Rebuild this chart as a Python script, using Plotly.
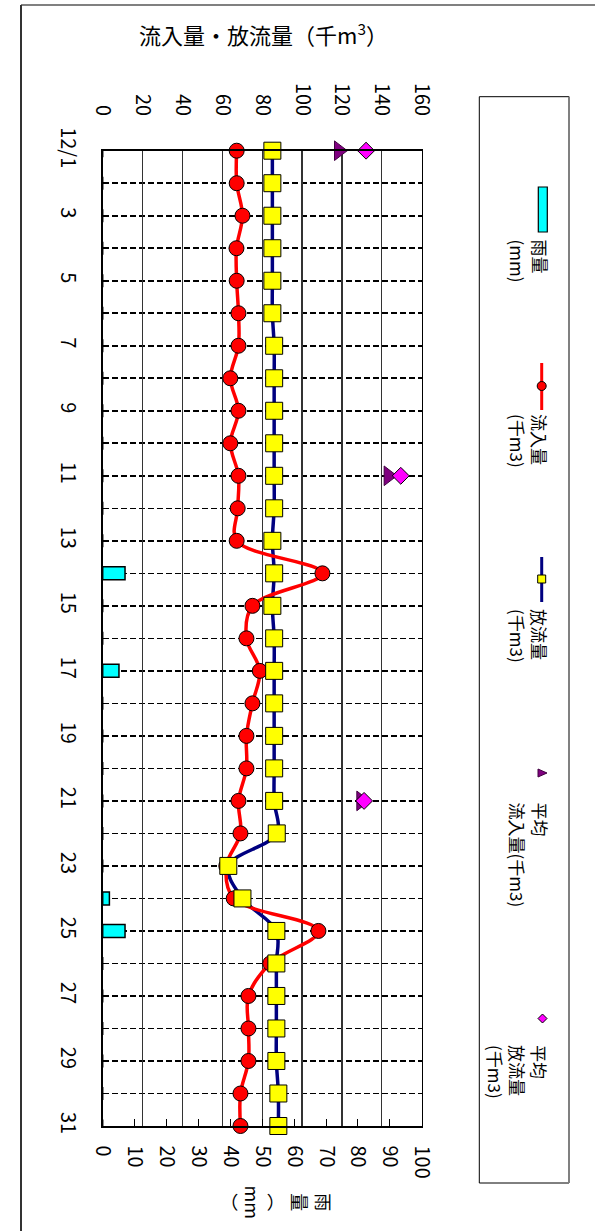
import plotly.graph_objects as go

# ---------------- data ----------------
days = list(range(1, 32))
day_labels = ["12/1", "", "3", "", "5", "", "7", "", "9", "", "11", "", "13", "", "15", "",
              "17", "", "19", "", "21", "", "23", "", "25", "", "27", "", "29", "", "31"]

rain_mm = [0, 0, 0, 0, 0, 0, 0, 0, 0, 0, 0, 0, 0, 7.0, 0, 0, 5.1, 0, 0, 0,
           0, 0, 0, 2.1, 7.0, 0, 0, 0, 0, 0, 0]

inflow = [67.2, 67.2, 70.1, 67.1, 67.2, 68.1, 68.1, 64.0, 68.1, 64.0,
          68.1, 67.7, 67.2, 110.2, 75.1, 72.1, 78.8, 75.1, 72.1, 72.1,
          68.1, 69.1, 62.0, 65.7, 108.2, 84.0, 73.1, 73.1, 73.1, 69.1, 69.1]

outflow = [85.1, 85.1, 85.1, 85.1, 85.1, 85.1, 86.0, 86.0, 86.0, 86.0,
           86.0, 86.0, 85.1, 86.0, 85.1, 86.0, 86.0, 86.0, 86.0, 86.0,
           86.0, 87.3, 63.0, 70.1, 87.1, 87.1, 87.1, 87.1, 87.1, 88.1, 88.1]

avg_days = [1, 11, 21]
avg_inflow = [118.4, 143.3, 129.6]
avg_outflow = [132.1, 149.5, 131.1]

flow_ticks = [0, 20, 40, 60, 80, 100, 120, 140, 160]
rain_ticks = [0, 10, 20, 30, 40, 50, 60, 70, 80, 90, 100]

# ---------------- layout helpers (pixel -> paper) ----------------
W, H = 595, 1231
def px(x):
    return x / W
def py(y):
    return 1 - y / H

FONT = "Noto Sans CJK JP"

fig = go.Figure()

# rain bars (base x axis, bottom)
fig.add_trace(go.Bar(
    x=rain_mm, y=days, orientation="h", xaxis="x", yaxis="y",
    width=0.4, marker=dict(color="#00FFFF", line=dict(color="black", width=1.5)),
    name="雨量(mm)", showlegend=False, cliponaxis=False,
))
# outflow line (under inflow line)
fig.add_trace(go.Scatter(
    x=outflow, y=days, xaxis="x2", yaxis="y", mode="lines",
    line=dict(color="#000080", width=3.5, shape="spline", smoothing=1),
    showlegend=False, cliponaxis=False,
))
# inflow
fig.add_trace(go.Scatter(
    x=inflow, y=days, xaxis="x2", yaxis="y", mode="lines+markers",
    line=dict(color="#FF0000", width=3.5, shape="spline", smoothing=1),
    marker=dict(symbol="circle", size=15, color="#FF0000", line=dict(color="black", width=1)),
    name="流入量(千m3)", showlegend=False, cliponaxis=False,
))
# outflow markers
fig.add_trace(go.Scatter(
    x=outflow, y=days, xaxis="x2", yaxis="y", mode="markers",
    marker=dict(symbol="square", size=17, color="#FFFF00", line=dict(color="black", width=1)),
    name="放流量(千m3)", showlegend=False, cliponaxis=False,
))
# averages
fig.add_trace(go.Scatter(
    x=avg_inflow, y=avg_days, xaxis="x2", yaxis="y", mode="markers",
    marker=dict(symbol="triangle-right", size=17, color="#800080", line=dict(color="#400040", width=1)),
    name="平均流入量(千m3)", showlegend=False, cliponaxis=False,
))
fig.add_trace(go.Scatter(
    x=avg_outflow, y=avg_days, xaxis="x2", yaxis="y", mode="markers",
    marker=dict(symbol="diamond", size=13, color="#FF00FF", line=dict(color="black", width=1)),
    name="平均放流量(千m3)", showlegend=False, cliponaxis=False,
))

x_dom = [px(102.7), px(421.7)]
y_dom = [py(1126), py(150.7)]
tickfont = dict(family=FONT, size=20, color="black")

fig.update_layout(
    width=W, height=H, autosize=False,
    margin=dict(l=0, r=0, t=0, b=0, pad=0),
    paper_bgcolor="white", plot_bgcolor="white",
    template="none",
    showlegend=False,
    bargap=0,
    xaxis=dict(
        domain=x_dom, range=[0, 100], side="bottom", anchor="y",
        tickmode="array", tickvals=rain_ticks, ticktext=[str(v) for v in rain_ticks],
        tickangle=90, tickfont=tickfont, ticks="inside", ticklen=7, tickwidth=1, tickcolor="black",
        showgrid=False, zeroline=False, showline=True, linecolor="black", linewidth=1.5,
        ticklabelstandoff=14, automargin=False, fixedrange=True,
    ),
    xaxis2=dict(
        overlaying="x", range=[0, 160], side="top", anchor="y",
        tickmode="array", tickvals=flow_ticks, ticktext=[str(v) for v in flow_ticks],
        tickangle=90, tickfont=tickfont, ticks="",
        showgrid=True, gridcolor="#333333", gridwidth=1.2,
        zeroline=False, showline=True, linecolor="black", linewidth=1.5,
        ticklabelstandoff=26, automargin=False, fixedrange=True,
    ),
    yaxis=dict(
        domain=y_dom, range=[31, 1], anchor="x",
        tickmode="array", tickvals=days, ticktext=day_labels,
        tickangle=90, tickfont=tickfont, ticks="",
        showgrid=True, gridcolor="black", gridwidth=1.6, griddash="6px,3px",
        zeroline=False, showline=True, mirror=True, linecolor="black", linewidth=1.5,
        ticklabelstandoff=16, automargin=False, fixedrange=True,
    ),
)

shapes = []
# outer frame
shapes.append(dict(type="line", xref="paper", yref="paper", x0=px(21), x1=px(595), y0=py(5), y1=py(5),
                   line=dict(color="#808080", width=2)))
shapes.append(dict(type="line", xref="paper", yref="paper", x0=px(21), x1=px(21), y0=py(5), y1=py(1231),
                   line=dict(color="#333333", width=2)))
# legend box
shapes.append(dict(type="rect", xref="paper", yref="paper", x0=px(479.3), x1=px(569), y0=py(1183), y1=py(96.7),
                   line=dict(color="black", width=1), fillcolor="rgba(0,0,0,0)"))
shapes.append(dict(type="line", xref="paper", yref="paper", x0=px(569), x1=px(569), y0=py(1183), y1=py(96.7),
                   line=dict(color="#808080", width=2)))
# legend symbols
lx = 541.7
shapes.append(dict(type="rect", xref="paper", yref="paper", x0=px(538.3), x1=px(547.3), y0=py(232), y1=py(187),
                   line=dict(color="black", width=1.2), fillcolor="#00FFFF"))
shapes.append(dict(type="line", xref="paper", yref="paper", x0=px(lx), x1=px(lx), y0=py(410), y1=py(363),
                   line=dict(color="#FF0000", width=3)))
shapes.append(dict(type="circle", xref="paper", yref="paper", x0=px(lx - 4.5), x1=px(lx + 4.5), y0=py(390.5), y1=py(381.5),
                   line=dict(color="black", width=1), fillcolor="#FF0000"))
shapes.append(dict(type="line", xref="paper", yref="paper", x0=px(lx), x1=px(lx), y0=py(602), y1=py(557),
                   line=dict(color="#000080", width=3)))
shapes.append(dict(type="rect", xref="paper", yref="paper", x0=px(lx - 4), x1=px(lx + 4), y0=py(583), y1=py(575),
                   line=dict(color="black", width=1), fillcolor="#FFFF00"))
shapes.append(dict(type="path", xref="paper", yref="paper",
                   path=f"M {px(538)},{py(769)} L {px(547)},{py(773)} L {px(538)},{py(777)} Z",
                   line=dict(color="#400040", width=1), fillcolor="#800080"))
shapes.append(dict(type="path", xref="paper", yref="paper",
                   path=f"M {px(542.5)},{py(1014)} L {px(547)},{py(1018.5)} L {px(542.5)},{py(1023)} L {px(538)},{py(1018.5)} Z",
                   line=dict(color="black", width=1), fillcolor="#FF00FF"))
fig.update_layout(shapes=shapes)

annotations = []
# chart title
annotations.append(dict(text="流入量・放流量（千m<sup>3</sup>）", x=px(263), y=py(33), xref="paper", yref="paper",
                        xanchor="center", yanchor="middle", showarrow=False,
                        font=dict(family=FONT, size=22, color="black")))
# rain axis title (rotated, stacked)
annotations.append(dict(text="雨<br>量<br>︵<br>mm<br>︶", x=px(276.5), y=py(1202), xref="paper", yref="paper",
                        xanchor="center", yanchor="middle", showarrow=False, textangle=90, align="center",
                        font=dict(family=FONT, size=18, color="black")))
# legend texts
leg_font = dict(family=FONT, size=17, color="black")
for txt, xc, ytop in [
    ("雨量<br>(mm)", 529, 237),
    ("流入量<br>(千m3)", 529, 412),
    ("放流量<br>(千m3)", 529, 607),
    ("平均<br>流入量(千m3)", 529, 800),
    ("平均<br>放流量<br>(千m3)", 518, 1043),
]:
    annotations.append(dict(text=txt, x=px(xc), y=py(ytop), xref="paper", yref="paper",
                            xanchor="center", yanchor="top", showarrow=False, textangle=90, align="left",
                            font=leg_font))
fig.update_layout(annotations=annotations)

fig.write_html("out.html", post_script="document.body.style.margin='0';",
               config={"displayModeBar": False, "staticPlot": True})
